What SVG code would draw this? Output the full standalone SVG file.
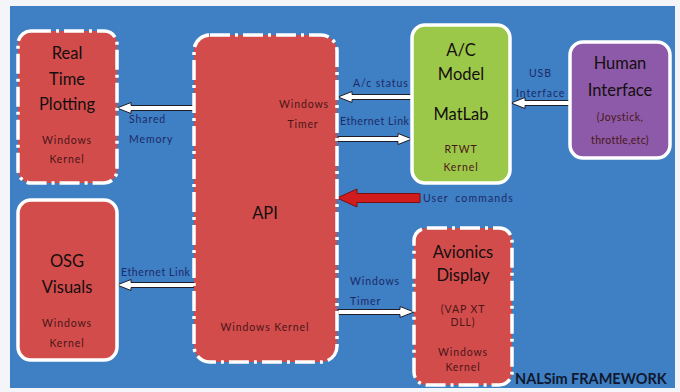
<svg xmlns="http://www.w3.org/2000/svg" width="680" height="392" viewBox="0 0 680 392">
<style>
.bg{fill:#3f7fc3}
.red{fill:#d24c4c;stroke:#ffffff;stroke-width:3.5}
.dd{stroke-dasharray:20 5 3 5}
.green{fill:#9cc84a;stroke:#ffffff;stroke-width:3.5}
.purple{fill:#8c5aa8;stroke:#ffffff;stroke-width:3.5}
.title{font-family:Lato,"Open Sans",sans-serif;font-size:16.5px;fill:#140e0e;text-anchor:middle}
.small{font-family:Lato,"Open Sans",sans-serif;font-size:10.5px;fill:#4a1616;text-anchor:middle;letter-spacing:0.9px}
.lbl{font-family:Lato,"Open Sans",sans-serif;font-size:10.5px;fill:#1c2a6a;letter-spacing:0.9px}
.arr{fill:#ffffff;stroke:#1e1e2a;stroke-width:1}
.uc{fill:#d01c1c;stroke:#7a1010;stroke-width:1}
.foot{font-family:Lato,"Open Sans",sans-serif;font-size:14.5px;font-weight:bold;fill:#101830}
</style>
<rect x="0" y="0" width="680" height="392" fill="#f3f5f8"/>
<rect class="bg" x="10" y="6" width="665" height="382"/>

<g id="connectors">
  <polygon id="shared-memory" class="arr" points="194,105.5 131,105.5 131,102.5 117,108 131,113.5 131,110.5 194,110.5"/>
  <polygon id="eth-osg" class="arr" points="194,282.5 131,282.5 131,279.5 117,285 131,290.5 131,287.5 194,287.5"/>
  <polygon id="ac-status" class="arr" points="412,94.5 352,94.5 352,91.5 338,97 352,102.5 352,99.5 412,99.5"/>
  <polygon id="eth-ac" class="arr" points="338,136.5 398,136.5 398,133.5 412,139 398,144.5 398,141.5 338,141.5"/>
  <polygon id="usb" class="arr" points="570,100.5 525,100.5 525,97.5 511,103 525,108.5 525,105.5 570,105.5"/>
  <polygon id="timer-av" class="arr" points="338,309.5 400,309.5 400,306.5 414,312 400,317.5 400,314.5 338,314.5"/>
  <polygon id="user-commands" class="uc" points="420,193.5 357,193.5 357,189 337,198 357,207 357,202.5 420,202.5"/>
  <text class="lbl" x="129" y="123">Shared</text>
  <text class="lbl" x="129" y="143">Memory</text>
  <text class="lbl" x="121" y="276" style="letter-spacing:0.6px">Ethernet Link</text>
  <text class="lbl" x="353" y="87">A/c status</text>
  <text class="lbl" x="340" y="125" style="letter-spacing:0.6px">Ethernet Link</text>
  <text class="lbl" x="529" y="77">USB</text>
  <text class="lbl" x="516" y="97">Interface</text>
  <text class="lbl" x="423" y="202" style="letter-spacing:1.1px;word-spacing:3px">User commands</text>
  <text class="lbl" x="350" y="285">Windows</text>
  <text class="lbl" x="350" y="305">Timer</text>
</g>

<g id="real-time-plotting">
  <rect class="red dd" x="18" y="31" width="99" height="152" rx="13"/>
  <text class="title" x="67" y="59">Real</text>
  <text class="title" x="67" y="85">Time</text>
  <text class="title" x="67" y="110">Plotting</text>
  <text class="small" x="67" y="144">Windows</text>
  <text class="small" x="67" y="163">Kernel</text>
</g>

<g id="osg-visuals">
  <rect class="red" x="18" y="200" width="99" height="160" rx="13"/>
  <text class="title" x="67" y="267">OSG</text>
  <text class="title" x="67" y="293">Visuals</text>
  <text class="small" x="67" y="327">Windows</text>
  <text class="small" x="67" y="347">Kernel</text>
</g>

<g id="api">
  <rect class="red dd" x="194" y="35" width="143" height="327" rx="16"/>
  <text class="small" x="304" y="108">Windows</text>
  <text class="small" x="303" y="128">Timer</text>
  <text class="title" x="265" y="219">API</text>
  <text class="small" x="265" y="331">Windows Kernel</text>
</g>

<g id="ac-model">
  <rect class="green" x="412" y="25" width="98" height="158" rx="13"/>
  <text class="title" x="461" y="56">A/C</text>
  <text class="title" x="461" y="80">Model</text>
  <text class="title" x="461" y="120">MatLab</text>
  <text class="small" x="461" y="153">RTWT</text>
  <text class="small" x="461" y="171">Kernel</text>
</g>

<g id="human-interface">
  <rect class="purple" x="570" y="42" width="100" height="116" rx="13"/>
  <text class="title" x="620" y="69">Human</text>
  <text class="title" x="620" y="96">Interface</text>
  <text class="small" x="620" y="121" style="letter-spacing:0.5px">(Joystick,</text>
  <text class="small" x="620" y="144" style="letter-spacing:0.3px">throttle,etc)</text>
</g>

<g id="avionics-display">
  <rect class="red dd" x="414" y="228" width="98" height="157" rx="13"/>
  <text class="title" x="463" y="258">Avionics</text>
  <text class="title" x="463" y="281">Display</text>
  <text class="small" x="463" y="313">(VAP XT</text>
  <text class="small" x="463" y="326">DLL)</text>
  <text class="small" x="463" y="356">Windows</text>
  <text class="small" x="463" y="371">Kernel</text>
</g>

<text class="foot" x="515" y="384">NALSim FRAMEWORK</text>
</svg>
